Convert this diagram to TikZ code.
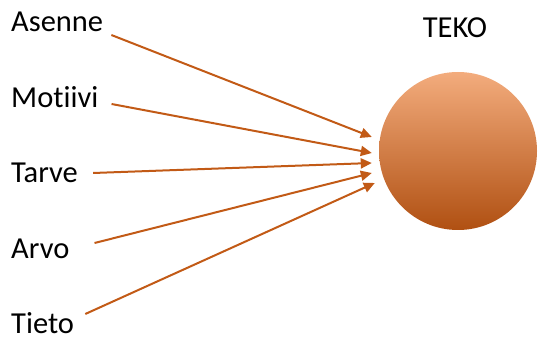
\documentclass[tikz,border=0pt]{standalone}
\usepackage{fontspec}
\setmainfont{Carlito}[Ligatures=NoCommon]
\usetikzlibrary{arrows.meta}

\definecolor{arrowc}{HTML}{C25A16}
\definecolor{tekotop}{HTML}{F3AC7D}
\definecolor{tekomid}{HTML}{EE8840}
\definecolor{tekobot}{HTML}{B05012}

\tikzset{
  label/.style={anchor=base west, inner sep=0pt, font=\fontsize{30.5}{36}\selectfont},
  feed/.style={draw=arrowc, line width=2pt, -{Triangle[length=11pt,width=10pt]}},
}

\begin{document}
\begin{tikzpicture}[x=1pt,y=1pt]
  \useasboundingbox (0,0) rectangle (540,340);

  % ---- the five factors on the left ----
  \node[label] (asenne)  at (11,308) {Asenne};
  \node[label] (motiivi) at (11,232) {Motiivi};
  \node[label] (tarve)   at (11,157) {Tarve};
  \node[label] (arvo)    at (11,82)  {Arvo};
  \node[label] (tieto)   at (11,7)   {Tieto};

  % ---- TEKO ball ----
  \node[circle, minimum size=158pt, inner sep=0pt,
        top color=tekotop, middle color=tekomid, bottom color=tekobot]
    (teko) at (458,189) {};
  \node[anchor=base, inner sep=0pt, font=\fontsize{30.5}{36}\selectfont]
    (tekolabel) at (455,302) {TEKO};

  % ---- arrow tips just short of the ball ----
  \coordinate (t1) at ([shift={(-7pt,14pt)}]teko.west);
  \coordinate (t2) at ([shift={(-7pt,-2pt)}]teko.west);
  \coordinate (t3) at ([shift={(-7pt,-12pt)}]teko.west);
  \coordinate (t4) at ([shift={(-7pt,-22pt)}]teko.west);
  \coordinate (t5) at ([shift={(-4pt,-32pt)}]teko.west);

  % ---- each factor feeds TEKO ----
  \draw[feed] ([shift={(8pt,-3pt)}]asenne.base east)  -- (t1);
  \draw[feed] ([shift={(13pt,4pt)}]motiivi.base east)  -- (t2);
  \draw[feed] ([shift={(15pt,10pt)}]tarve.base east)   -- (t3);
  \draw[feed] ([shift={(25pt,15pt)}]arvo.base east)    -- (t4);
  \draw[feed] ([shift={(11pt,19pt)}]tieto.base east)   -- (t5);

\end{tikzpicture}
\end{document}
